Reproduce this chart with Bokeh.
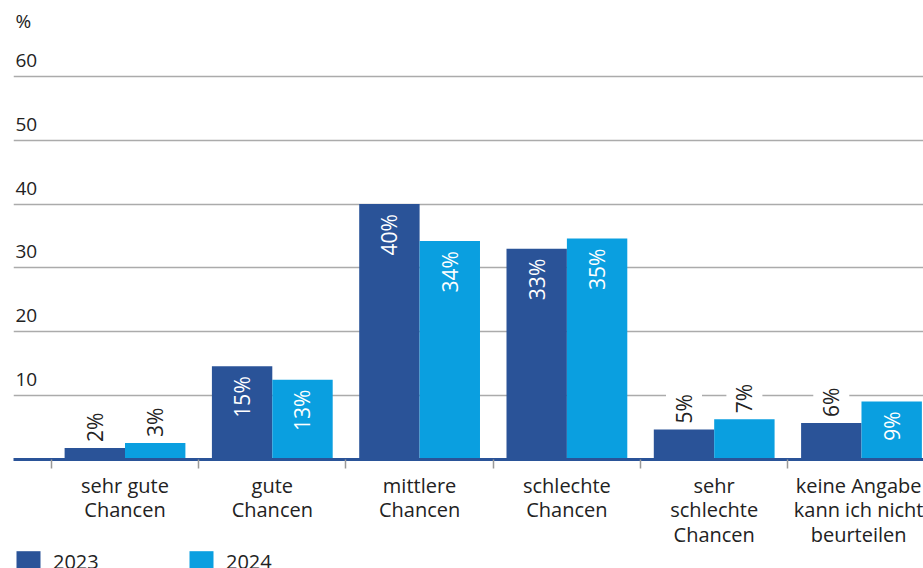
import numpy as np
from bokeh.plotting import figure
from bokeh.layouts import column
from bokeh.models import (ColumnDataSource, Range1d, FixedTicker, Legend, LegendItem)
from bokeh.core.properties import value
from bokeh.embed import file_html
from bokeh.resources import INLINE

# ---- data ----
categories = ["sehr gute\nChancen", "gute\nChancen", "mittlere\nChancen",
              "schlechte\nChancen", "sehr\nschlechte\nChancen",
              "keine Angabe\nkann ich nicht\nbeurteilen"]
vals_2023 = [1.8, 14.6, 40.0, 33.0, 4.7, 5.7]
vals_2024 = [2.6, 12.5, 34.2, 34.6, 6.3, 9.1]
labels_2023 = ["2%", "15%", "40%", "33%", "5%", "6%"]
labels_2024 = ["3%", "13%", "34%", "35%", "7%", "9%"]
y_ticks = [10, 20, 30, 40, 50, 60]
y_tick_labels = ["10", "20", "30", "40", "50", "60"]
series_names = ["2023", "2024"]

C23 = "#2a5398"
C24 = "#0a9fe0"
FONT = "Open Sans"
TXT = "#222222"

idx = np.arange(len(categories))
half = 0.205
x_start, x_end = -0.757, 5.421
y_end = 71.875

p = figure(width=923, height=551, output_backend="svg", toolbar_location=None,
           x_range=Range1d(x_start, x_end), y_range=Range1d(0, y_end),
           min_border_left=13, min_border_right=0, min_border_top=0,
           min_border_bottom=91)
p.outline_line_color = None
p.background_fill_color = "white"
p.border_fill_color = "white"

# grid
p.xgrid.visible = False
p.ygrid.ticker = FixedTicker(ticks=y_ticks)
p.ygrid.grid_line_color = "#ababab"
p.ygrid.grid_line_width = 1.5
p.yaxis.visible = False

# bars
r23 = p.vbar(x=idx - half, top=vals_2023, width=2 * half, bottom=0,
             fill_color=C23, line_color=None)
r24 = p.vbar(x=idx + half, top=vals_2024, width=2 * half, bottom=0,
             fill_color=C24, line_color=None)

# value labels
inside = {"x": [], "y": [], "t": []}
outside = {"x": [], "y": [], "t": []}
for xs, vals, labs in ((idx - half, vals_2023, labels_2023),
                       (idx + half, vals_2024, labels_2024)):
    for xv, v, lab in zip(xs, vals, labs):
        d = inside if v > 8.5 else outside
        d["x"].append(float(xv)); d["y"].append(v); d["t"].append(lab)

p.text(x="x", y="y", text="t", source=ColumnDataSource(inside), angle=np.pi / 2,
       text_align="right", text_baseline="middle", y_offset=10,
       text_color="white", text_font=value(FONT), text_font_size="21px")
p.text(x="x", y="y", text="t", source=ColumnDataSource(outside), angle=np.pi / 2,
       text_align="left", text_baseline="middle", y_offset=-2,
       text_color=TXT, text_font=value(FONT), text_font_size="21px",
       background_fill_color="white", padding=4)

# y tick labels (above gridlines)
p.text(x=[x_start] * len(y_ticks), y=y_ticks, text=y_tick_labels,
       text_align="left", text_baseline="alphabetic", x_offset=2, y_offset=-16,
       text_color=TXT, text_font=value(FONT), text_font_size="19px")
p.text(x=[x_start], y=[y_ticks[-1]], text=["%"],
       text_align="left", text_baseline="alphabetic", x_offset=2, y_offset=-55,
       text_color=TXT, text_font=value(FONT), text_font_size="19px")

# x axis
ax = p.xaxis[0]
ax.ticker = FixedTicker(ticks=list(idx), minor_ticks=[i - 0.5 for i in range(len(categories) + 1)])
ax.major_label_overrides = {int(i): c for i, c in zip(idx, categories)}
ax.axis_line_color = C23
ax.axis_line_width = 3
ax.major_tick_line_color = None
ax.major_tick_out = 0
ax.major_tick_in = 0
ax.minor_tick_line_color = "#999999"
ax.minor_tick_line_width = 1.5
ax.minor_tick_out = 9
ax.minor_tick_in = 0
ax.major_label_standoff = 3
ax.major_label_text_font = FONT
ax.major_label_text_font_size = "20px"
ax.major_label_text_color = TXT
ax.major_label_text_line_height = 0.92

# legend strip below
p2 = figure(width=923, height=17, output_backend="svg", toolbar_location=None,
            x_range=Range1d(0, 1), y_range=Range1d(0, 1),
            min_border_left=13, min_border_right=0, min_border_top=0,
            min_border_bottom=0)
p2.outline_line_color = None
p2.axis.visible = False
p2.grid.visible = False
l23 = p2.vbar(x=[-1], top=[0], width=0.1, fill_color=C23, line_color=None)
l24 = p2.vbar(x=[-1], top=[0], width=0.1, fill_color=C24, line_color=None)
legend = Legend(items=[LegendItem(label=series_names[0], renderers=[l23]),
                       LegendItem(label=series_names[1], renderers=[l24])],
                orientation="horizontal", location=(0, -7),
                glyph_width=30, glyph_height=27, label_standoff=10,
                label_width=133, spacing=0, padding=0, margin=0,
                border_line_color=None, background_fill_alpha=0,
                label_text_font=FONT, label_text_font_size="20px",
                label_text_color=TXT)
p2.add_layout(legend, "center")

open("out.html", "w").write(file_html(column(p, p2, spacing=0), INLINE))
